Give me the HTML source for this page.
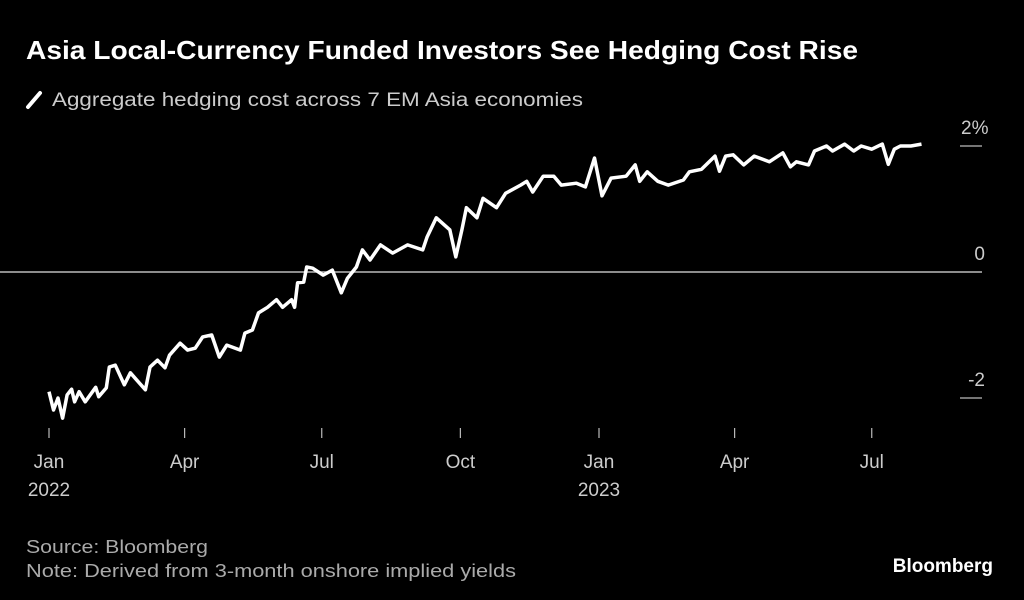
<!DOCTYPE html>
<html><head><meta charset="utf-8"><style>
body{margin:0;background:#000;width:1024px;height:600px;overflow:hidden;font-family:"Liberation Sans",sans-serif;color:#fff}
svg{position:absolute;left:0;top:0}
</style></head><body>
<svg id="c" width="1024" height="600">
<text x="26" y="59" font-size="26" font-weight="bold" fill="#fff" textLength="832" lengthAdjust="spacingAndGlyphs">Asia Local-Currency Funded Investors See Hedging Cost Rise</text>
<g>
<line x1="28" y1="107" x2="40" y2="93" stroke="#fff" stroke-width="4" stroke-linecap="round"/>
<text x="52" y="106" font-size="19" fill="#ccc" textLength="531" lengthAdjust="spacingAndGlyphs">Aggregate hedging cost across 7 EM Asia economies</text>
</g>
<text x="26" y="553" font-size="18" fill="#aaa" textLength="182" lengthAdjust="spacingAndGlyphs">Source: Bloomberg</text>
<text x="26" y="577" font-size="18" fill="#aaa" textLength="490" lengthAdjust="spacingAndGlyphs">Note: Derived from 3-month onshore implied yields</text>
<text x="993" y="572" font-size="19" font-weight="bold" fill="#fff" text-anchor="end">Bloomberg</text>
<g id="axes"></g>
<path id="line" fill="none" stroke="#fff" stroke-width="3.5" stroke-linejoin="round"/>
</svg>
<script>
const days=[0,3,6,9,12,15,17,20,24,31,33,38,40,44,50,54,58,64,67,72,77,80,87,92,97,102,108,113,118,127,130,135,139,145,151,155,161,163,165,169,171,175,182,188,194,198,204,208,213,220,228,238,248,251,257,266,270,274,277,284,288,297,303,313,317,321,328,335,340,350,356,362,367,373,383,389,392,397,404,411,421,425,433,436,442,445,449,454,461,468,478,487,492,496,504,508,516,520,528,534,539,546,553,557,561,565,572,579];
const values=[-1.90,-2.19,-2.00,-2.32,-1.95,-1.86,-2.06,-1.90,-2.06,-1.83,-1.98,-1.84,-1.51,-1.48,-1.79,-1.60,-1.71,-1.87,-1.51,-1.40,-1.52,-1.32,-1.13,-1.24,-1.21,-1.03,-1.00,-1.35,-1.16,-1.24,-0.97,-0.92,-0.65,-0.56,-0.44,-0.56,-0.44,-0.56,-0.17,-0.16,0.08,0.06,-0.05,0.03,-0.33,-0.10,0.08,0.35,0.19,0.43,0.30,0.43,0.35,0.56,0.86,0.67,0.24,0.67,1.02,0.86,1.17,1.02,1.25,1.38,1.44,1.27,1.52,1.52,1.38,1.41,1.35,1.81,1.21,1.49,1.52,1.70,1.44,1.59,1.44,1.38,1.46,1.59,1.63,1.70,1.84,1.60,1.84,1.86,1.70,1.84,1.75,1.89,1.67,1.75,1.70,1.92,2.00,1.92,2.03,1.92,2.00,1.95,2.03,1.71,1.95,2.00,2.00,2.03];
const xTickDays=[0,90,181,273,365,455,546];
const xTickMonths=["Jan","Apr","Jul","Oct","Jan","Apr","Jul"];
const xTickYears=["2022","","","","2023","",""];
const yTicks=[2,0,-2];
const yTickLabels=["2%","0","-2"];
const NS="http://www.w3.org/2000/svg";
const X=d=>49+d*(550/365);
const Y=v=>272-v*63;
const axes=document.getElementById('axes');
function mk(t,a){const e=document.createElementNS(NS,t);for(const k in a)e.setAttribute(k,a[k]);axes.appendChild(e);return e;}
yTicks.forEach((v,i)=>{
  const l=mk('line',{x1:v===0?0:960,x2:982,y1:Y(v),y2:Y(v),stroke:'#bbb','stroke-width':v===0?1.5:1.2});
  
  
  const t=mk('text',{x:v===2?961:985,y:Y(v)-12,'font-size':19,fill:'#ccc','text-anchor':v===2?'start':'end'});
  t.textContent=yTickLabels[i];
  
  
});
xTickDays.forEach((d,i)=>{
  const l=mk('line',{x1:X(d),x2:X(d),y1:428,y2:438,stroke:'#bbb','stroke-width':1.2});
  
  
  const t=mk('text',{x:X(d),y:468,'font-size':19,fill:'#ccc','text-anchor':'middle'});
  t.textContent=xTickMonths[i];
  
  
  if(xTickYears[i]){
    const y=mk('text',{x:X(d),y:496,'font-size':19,fill:'#ccc','text-anchor':'middle'});
    y.textContent=xTickYears[i];
    
    
  }
});
document.getElementById('line').setAttribute('d',days.map((d,i)=>(i?'L':'M')+X(d).toFixed(1)+','+Y(values[i]).toFixed(1)).join(''));
</script>
</body></html>
